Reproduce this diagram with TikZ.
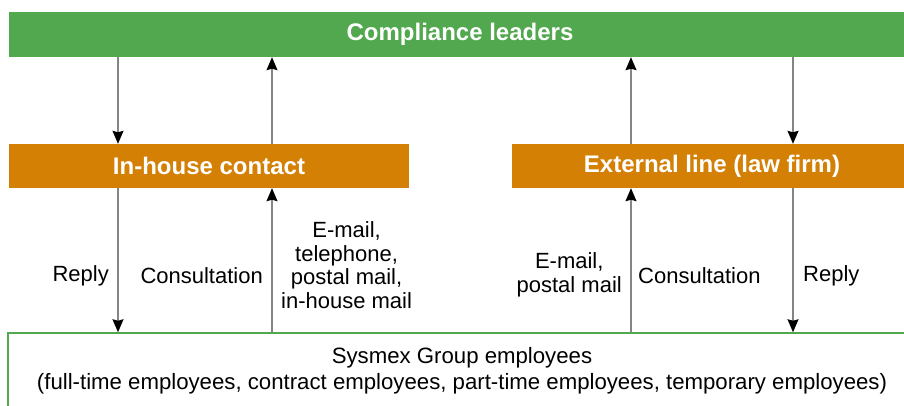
\documentclass[tikz,border=0pt]{standalone}
\usepackage{fontspec}
\setmainfont{Liberation Sans}
\usetikzlibrary{arrows.meta}
\definecolor{leadgreen}{HTML}{52A84E}
\definecolor{contactorange}{HTML}{D38005}
\definecolor{linegray}{HTML}{858585}

\begin{document}
\begin{tikzpicture}[x=1pt, y=-1pt,
    every node/.style={inner sep=0pt},
    greenbar/.style={rectangle, fill=leadgreen, minimum height=45pt, text=white, font=\fontsize{24}{26}\selectfont\bfseries},
    orangebox/.style={rectangle, fill=contactorange, minimum width=400pt, minimum height=44pt, text=white, font=\fontsize{24}{26}\selectfont\bfseries},
    staffbox/.style={rectangle, draw=leadgreen, line width=1.5pt, fill=white, minimum width=908pt, minimum height=80pt},
    note/.style={align=center, font=\fontsize{22}{23.6}\selectfont},
    flow/.style={draw=linegray, line width=1.3pt, -{Stealth[length=13pt, width=11pt, inset=1.5pt, color=black]}}]
  \useasboundingbox (0,0) rectangle (904,405);

  % boxes
  \node[greenbar, minimum width=902pt] (leaders) at (460,34.5) {Compliance leaders};
  \node[orangebox] (inhouse) at (209,166) {In-house contact};
  \node[orangebox] (external) at (712,166) {External line (law firm)};
  \node[staffbox] (staff) at (462,373) {};
  \node[note, font=\fontsize{22.2}{26}\selectfont] (stafftext) at (462,371)
    {Sysmex Group employees\\(full-time employees, contract employees, part-time employees, temporary employees)};

  % arrow positions
  \coordinate (c1) at (118,0);
  \coordinate (c2) at (272,0);
  \coordinate (c3) at (631,0);
  \coordinate (c4) at (793,0);

  \draw[flow] (c1 |- leaders.south) -- (c1 |- inhouse.north);
  \draw[flow] (c2 |- inhouse.north) -- (c2 |- leaders.south);
  \draw[flow] (c3 |- external.north) -- (c3 |- leaders.south);
  \draw[flow] (c4 |- leaders.south) -- (c4 |- external.north);

  \draw[flow] (c1 |- inhouse.south) -- (c1 |- staff.north);
  \draw[flow] (c2 |- staff.north) -- (c2 |- inhouse.south);
  \draw[flow] (c3 |- staff.north) -- (c3 |- external.south);
  \draw[flow] (c4 |- external.south) -- (c4 |- staff.north);

  % labels
  \node[note, anchor=east] (reply1) at (109,276) {Reply};
  \node[note, anchor=east] (consult1) at (263,276) {Consultation};
  \node[note, anchor=west] (means1) at (281,265) {E-mail,\\telephone,\\postal mail,\\in-house mail};
  \node[note, anchor=east] (means2) at (622,275) {E-mail,\\postal mail};
  \node[note, anchor=west] (consult2) at (638,276) {Consultation};
  \node[note, anchor=west] (reply2) at (803,276) {Reply};
\end{tikzpicture}
\end{document}
